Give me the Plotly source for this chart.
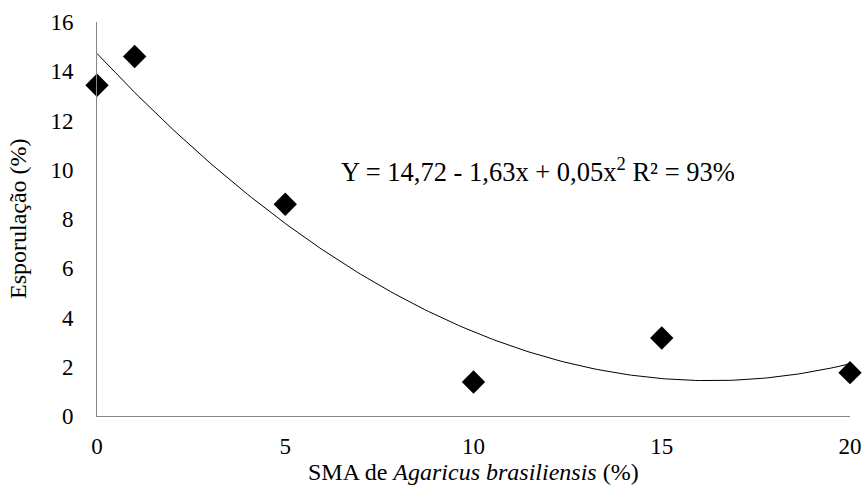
import numpy as np
import plotly.graph_objects as go

x_vals = [0, 1, 5, 10, 15, 20]
y_vals = [13.43, 14.6, 8.6, 1.38, 3.17, 1.76]
trend_coefs = [14.72, -1.63, 0.05]  # a + b x + c x^2 as shown in the chart
x_ticks = [0, 5, 10, 15, 20]
y_ticks = [0, 2, 4, 6, 8, 10, 12, 14, 16]

xs = np.linspace(min(x_vals), max(x_vals), 201)
ys = trend_coefs[0] + trend_coefs[1] * xs + trend_coefs[2] * xs ** 2

W, H = 865, 492
L, T = 97, 22
R = W - 850
B = H - 416
pw, ph = W - L - R, H - T - B

fig = go.Figure()
fig.add_trace(go.Scatter(x=xs, y=ys, mode="lines",
                         line=dict(color="black", width=1), cliponaxis=False,
                         showlegend=False, hoverinfo="skip"))
fig.add_trace(go.Scatter(x=x_vals, y=y_vals, mode="markers",
                         marker=dict(symbol="diamond", size=18, color="black"),
                         cliponaxis=False, showlegend=False))

font = "Liberation Serif"
fig.add_annotation(x=11.7, y=10.0, xref="x", yref="y", showarrow=False,
                   text="Y = 14,72 - 1,63x + 0,05x<sup>2</sup> R² = 93%",
                   font=dict(family=font, size=26.5, color="black"))
fig.add_annotation(x=(18 - L) / pw, y=0.5, xref="paper", yref="paper", showarrow=False,
                   textangle=-90, xanchor="center", yanchor="middle",
                   text="Esporulação (%)", font=dict(family=font, size=24, color="black"))
fig.add_annotation(x=0.5, y=-(472 - (H - B)) / ph, xref="paper", yref="paper", showarrow=False,
                   xanchor="center", yanchor="middle",
                   text="SMA de <i>Agaricus brasiliensis</i> (%)",
                   font=dict(family=font, size=24, color="black"))

fig.update_layout(
    width=W, height=H,
    margin=dict(l=L, r=R, t=T, b=B),
    paper_bgcolor="white", plot_bgcolor="white",
    font=dict(family=font, size=23, color="black"),
)
fig.update_xaxes(range=[0, 20], tickvals=x_ticks, showgrid=False, zeroline=False,
                 showline=True, linecolor="#868686", linewidth=1,
                 ticks="outside", ticklen=9, tickcolor="rgba(0,0,0,0)",
                 tickfont=dict(family=font, size=23, color="black"), automargin=False,
                 ticklabeloverflow="allow")
fig.update_yaxes(range=[0, 16], tickvals=y_ticks, showgrid=False, zeroline=False,
                 showline=True, linecolor="#868686", linewidth=1,
                 ticks="outside", ticklen=18, tickcolor="rgba(0,0,0,0)",
                 tickfont=dict(family=font, size=23, color="black"), automargin=False)

fig.write_html("out.html", config={"displayModeBar": False},
               post_script="document.body.style.margin='0';")
